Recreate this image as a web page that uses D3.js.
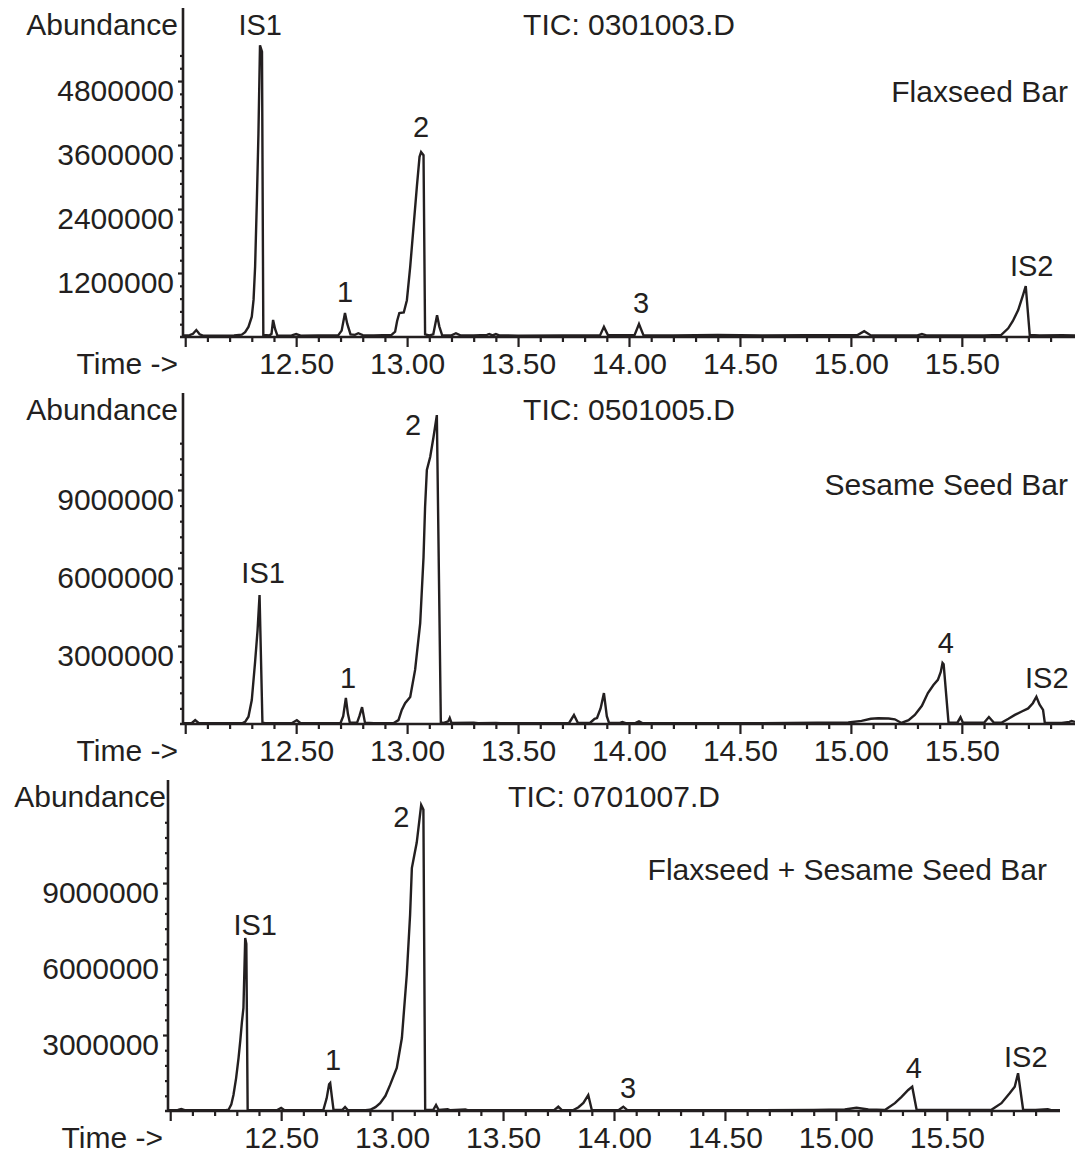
<!DOCTYPE html>
<html>
<head>
<meta charset="utf-8">
<script src="https://cdn.jsdelivr.net/npm/d3@7"></script>
<style>
  body { margin: 0; background: #fff; }
  svg { display: block; }
  text { font-family: "Liberation Sans", Arial, sans-serif; fill: #231f20; }
  .axis line { stroke: #231f20; stroke-width: 2.2; }
  .axis text { font-size: 30px; font-family: "Liberation Sans", Arial, sans-serif; }
  .trace { fill: none; stroke: #231f20; stroke-width: 2.4; }
</style>
</head>
<body>
<svg id="chart" width="1075" height="1157"></svg>
<script>
// retention time (min), abundance
const flaxseedBar = [
  [11.99, 30000], [12.02, 35000], [12.035, 60000], [12.05, 130000], [12.065, 50000], [12.08, 25000],
  [12.15, 25000], [12.22, 30000], [12.255, 45000], [12.27, 90000], [12.285, 190000], [12.3, 380000],
  [12.308, 700000], [12.315, 1320000], [12.323, 2570000], [12.33, 3820000], [12.337, 5470000],
  [12.346, 5350000], [12.352, 40000], [12.38, 30000], [12.389, 60000], [12.396, 320000], [12.405, 150000],
  [12.415, 30000], [12.46, 25000], [12.48, 30000], [12.5, 55000], [12.52, 25000], [12.6, 30000],
  [12.69, 35000], [12.705, 120000], [12.72, 450000], [12.73, 250000], [12.745, 50000], [12.765, 40000],
  [12.78, 70000], [12.8, 35000], [12.85, 30000], [12.93, 40000], [12.946, 100000], [12.955, 300000],
  [12.965, 450000], [12.985, 460000], [12.999, 690000], [13.014, 1320000], [13.029, 2070000],
  [13.044, 2820000], [13.056, 3380000], [13.063, 3470000], [13.074, 3410000], [13.081, 50000],
  [13.1, 30000], [13.118, 50000], [13.135, 410000], [13.145, 200000], [13.158, 30000], [13.2, 30000],
  [13.22, 70000], [13.24, 30000], [13.3, 30000], [13.36, 40000], [13.37, 55000], [13.385, 30000],
  [13.4, 55000], [13.415, 30000], [13.5, 25000], [13.7, 30000], [13.87, 35000], [13.887, 190000],
  [13.905, 35000], [14.025, 35000], [14.045, 245000], [14.065, 35000], [14.2, 30000], [14.4, 40000],
  [14.6, 30000], [14.8, 35000], [15.03, 35000], [15.06, 110000], [15.09, 30000], [15.3, 30000],
  [15.32, 55000], [15.34, 30000], [15.5, 30000], [15.6, 30000], [15.678, 40000], [15.709, 163000],
  [15.73, 300000], [15.754, 506000], [15.776, 790000], [15.788, 956000], [15.806, 40000],
  [15.85, 30000], [15.95, 35000], [16.01, 30000]
];

const sesameSeedBar = [
  [11.99, 30000], [12.03, 40000], [12.045, 150000], [12.06, 40000], [12.1, 30000], [12.2, 30000],
  [12.26, 40000], [12.27, 80000], [12.285, 280000], [12.3, 920000], [12.315, 2400000], [12.326, 3600000],
  [12.335, 4960000], [12.348, 50000], [12.36, 30000], [12.48, 30000], [12.503, 150000], [12.52, 30000],
  [12.6, 30000], [12.7, 40000], [12.712, 300000], [12.724, 1000000], [12.733, 400000], [12.742, 50000],
  [12.775, 60000], [12.785, 300000], [12.797, 650000], [12.81, 50000], [12.85, 35000], [12.94, 40000],
  [12.961, 150000], [12.976, 540000], [12.991, 800000], [13.014, 1040000], [13.036, 2080000],
  [13.059, 3880000], [13.074, 6420000], [13.081, 8350000], [13.089, 9770000], [13.104, 10270000],
  [13.119, 11040000], [13.134, 11880000], [13.152, 60000], [13.165, 40000], [13.185, 100000],
  [13.192, 230000], [13.2, 40000], [13.3, 50000], [13.32, 35000], [13.4, 45000], [13.42, 30000],
  [13.5, 35000], [13.6, 30000], [13.73, 40000], [13.752, 346000], [13.77, 40000], [13.824, 40000],
  [13.845, 200000], [13.856, 230000], [13.872, 600000], [13.887, 1190000], [13.9, 300000],
  [13.91, 40000], [13.96, 40000], [13.97, 80000], [13.985, 35000], [14.03, 40000], [14.045, 100000],
  [14.06, 35000], [14.3, 30000], [14.6, 35000], [14.85, 50000], [14.988, 60000], [15.048, 120000],
  [15.09, 200000], [15.123, 220000], [15.17, 210000], [15.198, 180000], [15.228, 40000],
  [15.26, 150000], [15.288, 350000], [15.32, 700000], [15.347, 1190000], [15.372, 1500000],
  [15.392, 1700000], [15.405, 2000000], [15.413, 2350000], [15.418, 2300000], [15.44, 50000],
  [15.48, 50000], [15.494, 260000], [15.505, 50000], [15.6, 50000], [15.622, 270000], [15.645, 50000],
  [15.68, 60000], [15.71, 200000], [15.739, 350000], [15.77, 480000], [15.799, 600000],
  [15.82, 800000], [15.836, 1050000], [15.85, 750000], [15.866, 540000], [15.874, 40000],
  [15.95, 40000], [15.985, 80000], [15.995, 115000], [16.01, 80000]
];

const flaxSesameBar = [
  [11.99, 30000], [12.035, 40000], [12.05, 80000], [12.065, 35000], [12.2, 30000], [12.25, 35000],
  [12.263, 50000], [12.275, 250000], [12.285, 630000], [12.297, 1300000], [12.308, 2100000],
  [12.316, 2800000], [12.323, 3500000], [12.33, 4070000], [12.338, 6830000], [12.343, 6600000],
  [12.349, 40000], [12.38, 30000], [12.48, 30000], [12.5, 120000], [12.515, 30000], [12.6, 30000],
  [12.69, 35000], [12.705, 500000], [12.716, 1050000], [12.721, 1100000], [12.728, 600000],
  [12.736, 40000], [12.775, 40000], [12.788, 160000], [12.8, 40000], [12.88, 30000], [12.901, 50000],
  [12.925, 150000], [12.946, 310000], [12.97, 600000], [12.991, 1030000], [13.021, 1700000],
  [13.044, 2880000], [13.066, 5370000], [13.081, 7740000], [13.089, 9590000], [13.1, 10100000],
  [13.111, 10600000], [13.131, 12080000], [13.141, 11900000], [13.149, 50000], [13.185, 40000],
  [13.198, 240000], [13.21, 40000], [13.25, 70000], [13.26, 35000], [13.33, 60000], [13.34, 35000],
  [13.5, 30000], [13.73, 35000], [13.749, 170000], [13.765, 35000], [13.817, 40000], [13.84, 150000],
  [13.862, 320000], [13.884, 630000], [13.9, 40000], [14.02, 35000], [14.042, 170000], [14.06, 35000],
  [14.3, 30000], [14.6, 35000], [14.9, 40000], [15.04, 60000], [15.093, 130000], [15.146, 60000],
  [15.221, 40000], [15.266, 310000], [15.296, 560000], [15.326, 830000], [15.344, 960000],
  [15.364, 40000], [15.4, 40000], [15.5, 45000], [15.6, 40000], [15.701, 50000], [15.746, 310000],
  [15.784, 710000], [15.806, 960000], [15.821, 1490000], [15.844, 40000], [15.9, 40000],
  [15.955, 70000], [15.97, 35000], [16.01, 30000]
];

// peak labels: text, time, abundance where the label sits
const flaxseedPeaks = [["IS1", 12.338, 5660000], ["1", 12.72, 656000], ["2", 13.063, 3750000],
  ["3", 14.054, 450000], ["IS2", 15.815, 1140000]];
const sesamePeaks = [["IS1", 12.351, 5420000], ["1", 12.734, 1380000], ["2", 13.027, 11100000],
  ["4", 15.428, 2730000], ["IS2", 15.883, 1380000]];
const mixedPeaks = [["IS1", 12.383, 6950000], ["1", 12.734, 1620000], ["2", 13.041, 11200000],
  ["3", 14.063, 510000], ["4", 15.351, 1300000], ["IS2", 15.856, 1740000]];

const runFiles = ["TIC: 0301003.D", "TIC: 0501005.D", "TIC: 0701007.D"];
const sampleNames = ["Flaxseed Bar", "Sesame Seed Bar", "Flaxseed + Sesame Seed Bar"];
const timeTicks = [12, 12.5, 13, 13.5, 14, 14.5, 15, 15.5];
const flaxTicks = [1200000, 2400000, 3600000, 4800000];
const sesameTicks = [3000000, 6000000, 9000000];

const panels = [
  { data: flaxseedBar, peaks: flaxseedPeaks, yTicks: flaxTicks, yMax: 6170000, minorStep: 240000, minorMax: 5280000,
    left: 183, right: 1075, top: 8, base: 337, abundX: 178, nameX: 1068, nameY: 102 },
  { data: sesameSeedBar, peaks: sesamePeaks, yTicks: sesameTicks, yMax: 12730000, minorStep: 600000, minorMax: 10800000,
    left: 183, right: 1075, top: 393, base: 724, abundX: 178, nameX: 1068, nameY: 495 },
  { data: flaxSesameBar, peaks: mixedPeaks, yTicks: sesameTicks, yMax: 13070000, minorStep: 600000, minorMax: 11400000,
    left: 168, right: 1060, top: 780, base: 1111, abundX: 166, nameX: 1047, nameY: 880 }
];

const svg = d3.select("#chart");
const ink = "#231f20";
const fmtTime = d3.format(".2f");

panels.forEach((p, i) => {
  const g = svg.append("g");

  const x = d3.scaleLinear().domain([11.99, 16.01]).range([p.left, p.right]);
  const y = d3.scaleLinear().domain([0, p.yMax]).range([p.base, p.top]);

  // minor time ticks (every 0.1 min)
  const minorTimes = d3.range(121, 160).map(d => d / 10).filter(d => Math.round(d * 10) % 5 != 0);
  g.append("g").attr("class", "axis")
    .attr("transform", "translate(0," + p.base + ")")
    .call(d3.axisBottom(x).tickValues(minorTimes).tickSize(5).tickSizeOuter(0).tickFormat(""))
    .call(a => a.select(".domain").remove());

  g.append("g").attr("class", "axis")
    .attr("transform", "translate(0," + p.base + ")")
    .call(d3.axisBottom(x).tickValues(timeTicks).tickSize(10).tickPadding(6).tickSizeOuter(0)
      .tickFormat(d => d === 12 ? "" : fmtTime(d)))
    .call(a => a.select(".domain").remove())
    .call(a => a.attr("font-family", null).attr("font-size", null));

  // abundance ticks
  const majorSet = new Set(p.yTicks);
  const minorY = d3.range(p.minorStep, p.minorMax + 1, p.minorStep).filter(v => !majorSet.has(Math.round(v)));
  g.append("g").attr("class", "axis")
    .attr("transform", "translate(" + p.left + ",0)")
    .call(d3.axisLeft(y).tickValues(minorY).tickSize(3).tickSizeOuter(0).tickFormat(""))
    .call(a => a.select(".domain").remove());

  g.append("g").attr("class", "axis")
    .attr("transform", "translate(" + p.left + ",0)")
    .call(d3.axisLeft(y).tickValues(p.yTicks).tickSize(5).tickPadding(4).tickSizeOuter(0).tickFormat(d3.format("d")))
    .call(a => a.select(".domain").remove())
    .call(a => a.attr("font-family", null).attr("font-size", null))
    .call(a => a.selectAll("text").attr("dy", "0.66em"));

  // axis lines
  g.append("line")
    .attr("x1", p.left - 3).attr("x2", p.right)
    .attr("y1", p.base).attr("y2", p.base)
    .attr("stroke", ink).attr("stroke-width", 2.6);
  g.append("line")
    .attr("x1", p.left).attr("x2", p.left)
    .attr("y1", p.top).attr("y2", p.base)
    .attr("stroke", ink).attr("stroke-width", 2.6);

  // chromatogram trace
  const line = d3.line()
    .x(d => x(d[0]))
    .y(d => y(d[1]));

  g.append("path")
    .datum(p.data)
    .attr("class", "trace")
    .attr("d", line);

  // peak labels
  g.selectAll(".peak")
    .data(p.peaks)
    .enter().append("text")
    .attr("class", "peak")
    .attr("x", d => x(d[1]))
    .attr("y", d => y(d[2]))
    .attr("text-anchor", "middle")
    .style("font-size", "29px")
    .text(d => d[0]);

  // headings
  g.append("text")
    .attr("x", p.abundX).attr("y", p.top + 27)
    .attr("text-anchor", "end").style("font-size", "30px")
    .text("Abundance");
  g.append("text")
    .attr("x", p.left - 5).attr("y", p.base + 37)
    .attr("text-anchor", "end").style("font-size", "30px")
    .text("Time ->");
  g.append("text")
    .attr("x", (p.left + p.right) / 2).attr("y", p.top + 27)
    .attr("text-anchor", "middle").style("font-size", "30px")
    .text(runFiles[i]);
  g.append("text")
    .attr("x", p.nameX).attr("y", p.nameY)
    .attr("text-anchor", "end").style("font-size", "30px")
    .text(sampleNames[i]);
});
</script>
</body>
</html>
